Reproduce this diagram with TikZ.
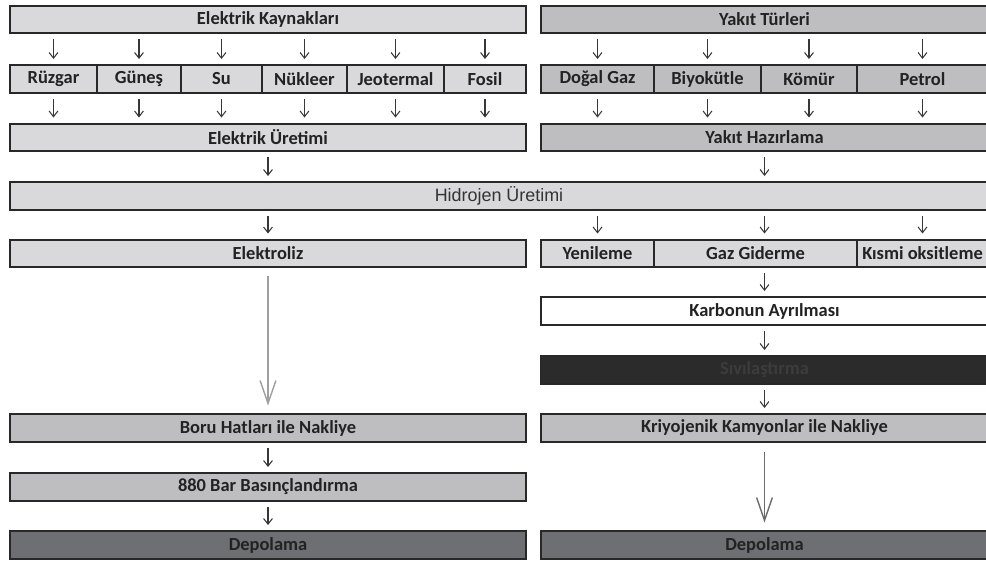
\documentclass[tikz,border=0pt]{standalone}
\usepackage{fontspec}
\setmainfont{Carlito}
\newfontfamily\arialfont{Liberation Sans}
\usetikzlibrary{arrows.meta}

\definecolor{lightgr}{RGB}{217,217,219}
\definecolor{midgr}{RGB}{190,190,192}
\definecolor{darkgr}{RGB}{110,111,115}
\definecolor{nightgr}{RGB}{43,43,43}
\definecolor{boxline}{RGB}{40,40,40}
\definecolor{txtgr}{RGB}{34,34,34}
\definecolor{arrgr}{RGB}{55,55,55}

\tikzset{
  box/.style={draw=boxline, line width=1.4pt, inner sep=0pt, minimum height=0.55cm,
    text=txtgr, font=\fontsize{10.5}{12}\selectfont\bfseries},
  lbox/.style={box, fill=lightgr},
  mbox/.style={box, fill=midgr},
  dbox/.style={box, fill=darkgr},
  wbox/.style={box, fill=white},
  nbox/.style={box, fill=nightgr, text={rgb,255:red,60;green,60;blue,60}},
  arr/.style={-{Straight Barb[length=3.2pt,width=5pt]}, draw=arrgr, line width=0.6pt,
    shorten <=0.1cm, shorten >=0.1cm},
  longarr/.style={-{Straight Barb[length=13pt,width=9pt]}, draw=gray!75, line width=0.8pt,
    shorten <=0.16cm, shorten >=0.15cm}
}

\begin{document}
\begin{tikzpicture}[x=0.02cm, y=-0.02cm]
 \useasboundingbox (0,0) rectangle (986,563);

 % electricity side
 \node[lbox, minimum width=10.32cm] (kay) at (268,19.5) {Elektrik Kaynakları};
 \node[lbox, minimum width=1.74cm] (ruz) at (53.5,79) {Rüzgar};
 \node[lbox, minimum width=1.68cm] (gun) at (139,79) {Güneş};
 \node[lbox, minimum width=1.62cm] (su) at (221.5,79) {Su};
 \node[lbox, minimum width=1.70cm] (nuk) at (304.5,79) {Nükleer};
 \node[lbox, minimum width=1.94cm] (jeo) at (395.5,79) {Jeotermal};
 \node[lbox, minimum width=1.64cm] (fos) at (485,79) {Fosil};
 \node[lbox, minimum width=10.32cm] (ure) at (268,137.5) {Elektrik Üretimi};

 % fuel side
 \node[mbox, minimum width=8.94cm] (yak) at (764.5,19.5) {Yakıt Türleri};
 \node[mbox, minimum width=2.26cm] (dog) at (597.5,79) {Doğal Gaz};
 \node[mbox, minimum width=2.14cm] (biy) at (707.5,79) {Biyokütle};
 \node[mbox, minimum width=1.92cm] (kom) at (809,79) {Kömür};
 \node[mbox, minimum width=2.62cm] (pet) at (922.5,79) {Petrol};
 \node[mbox, minimum width=8.94cm] (haz) at (764.5,137.5) {Yakıt Hazırlama};

 \node[lbox, minimum width=19.56cm, font=\arialfont\fontsize{10.2}{12}\selectfont,
   text={rgb,255:red,51;green,51;blue,51}] (hid) at (499,196) {Hidrojen Üretimi};

 \node[lbox, minimum width=10.32cm] (elk) at (268,253.5) {Elektroliz};
 \node[lbox, minimum width=2.26cm] (yen) at (597.5,253.5) {Yenileme};
 \node[lbox, minimum width=4.06cm] (gaz) at (755.5,253.5) {Gaz Giderme};
 \node[lbox, minimum width=2.62cm] (kis) at (922.5,253.5) {Kısmi oksitleme};

 \node[wbox, minimum width=8.94cm] (kar) at (764.5,311) {Karbonun Ayrılması};
 \node[nbox, minimum width=8.94cm] (siv) at (764.5,370) {Sıvılaştırma};

 \node[mbox, minimum width=10.32cm] (bor) at (268,428) {Boru Hatları ile Nakliye};
 \node[mbox, minimum width=10.32cm] (bas) at (268,487) {880 Bar Basınçlandırma};
 \node[dbox, minimum width=10.32cm] (depl) at (268,545) {Depolama};
 \node[mbox, minimum width=8.94cm] (kri) at (764.5,428) {Kriyojenik Kamyonlar ile Nakliye};
 \node[dbox, minimum width=8.94cm] (depr) at (764.5,545) {Depolama};

 \foreach \s in {ruz,gun,su,nuk,jeo,fos}
 {
   \draw[arr] (\s |- kay.south) -- (\s);
   \draw[arr] (\s) -- (\s |- ure.north);
 }
 \foreach \s in {dog,biy,kom,pet}
 {
   \draw[arr] (\s |- yak.south) -- (\s);
   \draw[arr] (\s) -- (\s |- haz.north);
 }

 \draw[arr] (ure) -- (ure |- hid.north);
 \draw[arr] (haz) -- (haz |- hid.north);
 \foreach \s in {elk,yen,kis}
   \draw[arr] (\s |- hid.south) -- (\s);
 \draw[arr] (kar |- hid.south) -- (kar |- gaz.north);
 \draw[arr] (kar |- gaz.south) -- (kar);
 \draw[arr] (kar) -- (siv);
 \draw[arr] (siv) -- (kri);

 \draw[longarr] (elk) -- (bor);
 \draw[arr] (bor) -- (bas);
 \draw[arr] (bas) -- (depl);
 \draw[longarr, draw=gray!85!black, shorten <=0.18cm] (kri) -- (depr);

\end{tikzpicture}
\end{document}
